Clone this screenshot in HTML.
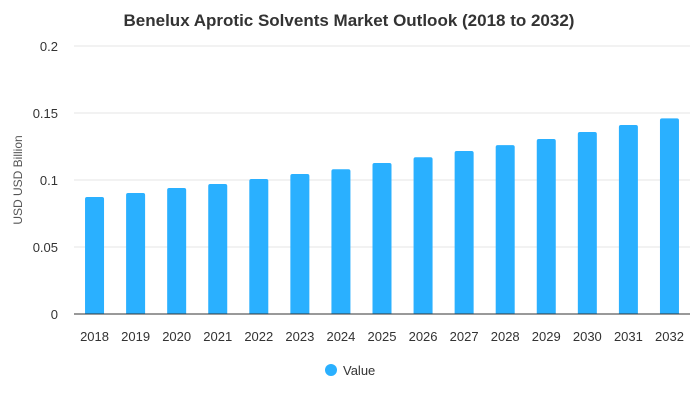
<!DOCTYPE html>
<html><head><meta charset="utf-8"><style>
body{margin:0;background:#fff;font-family:"Liberation Sans",sans-serif;}
</style></head><body>
<svg width="700" height="400" xmlns="http://www.w3.org/2000/svg" id="chart">
<text x="349" y="26" text-anchor="middle" font-size="17" font-weight="bold" fill="#333">Benelux Aprotic Solvents Market Outlook (2018 to 2032)</text>
<text transform="translate(22,180) rotate(-90)" text-anchor="middle" font-size="12" fill="#555">USD USD Billion</text>
<g id="grid"></g><g id="bars"></g><g id="xl"></g>
<line x1="74" y1="314" x2="690" y2="314" stroke="#333" stroke-width="1"/>
<circle cx="331" cy="370" r="6" fill="#2ab0ff"/>
<text x="343" y="375" font-size="13" fill="#333">Value</text>
</svg>
<script>
const categories=["2018","2019","2020","2021","2022","2023","2024","2025","2026","2027","2028","2029","2030","2031","2032"];
const values=[0.0873,0.0903,0.094,0.097,0.1007,0.1045,0.108,0.1127,0.117,0.1216,0.126,0.1306,0.1358,0.141,0.146];
const ticks=[0,0.05,0.1,0.15,0.2];
const tickLabels=["0","0.05","0.1","0.15","0.2"];
const NS="http://www.w3.org/2000/svg";
const x0=74,x1=690,y0=314,y1=46,ymax=0.2;
const band=(x1-x0)/categories.length;
const ys=v=>y0-(v/ymax)*(y0-y1);
const xs=i=>x0+band*i+band/2;
function mk(t,a,p){const e=document.createElementNS(NS,t);for(const k in a)e.setAttribute(k,a[k]);p.appendChild(e);return e;}
const g=document.getElementById('grid');
ticks.forEach((t,i)=>{
  if(t>0){const l=mk('line',{x1:x0,x2:x1,y1:ys(t),y2:ys(t),stroke:'#e6e6e6'},g);
  
  }
  const tx=mk('text',{x:58,y:ys(t)+5,'text-anchor':'end','font-size':13,fill:'#333'},g);
  tx.textContent=tickLabels[i];
  
  
});
const b=document.getElementById('bars'),xl=document.getElementById('xl');
values.forEach((v,i)=>{
  const w=19,top=ys(v);
  const r=mk('path',{d:`M${xs(i)-w/2},${y0}V${top+2}Q${xs(i)-w/2},${top} ${xs(i)-w/2+2},${top}H${xs(i)+w/2-2}Q${xs(i)+w/2},${top} ${xs(i)+w/2},${top+2}V${y0}Z`,fill:'#2ab0ff'},b);
  
  
  const t=mk('text',{x:xs(i),y:341,'text-anchor':'middle','font-size':13,fill:'#333'},xl);
  t.textContent=categories[i];
  
  
});
</script>
</body></html>
